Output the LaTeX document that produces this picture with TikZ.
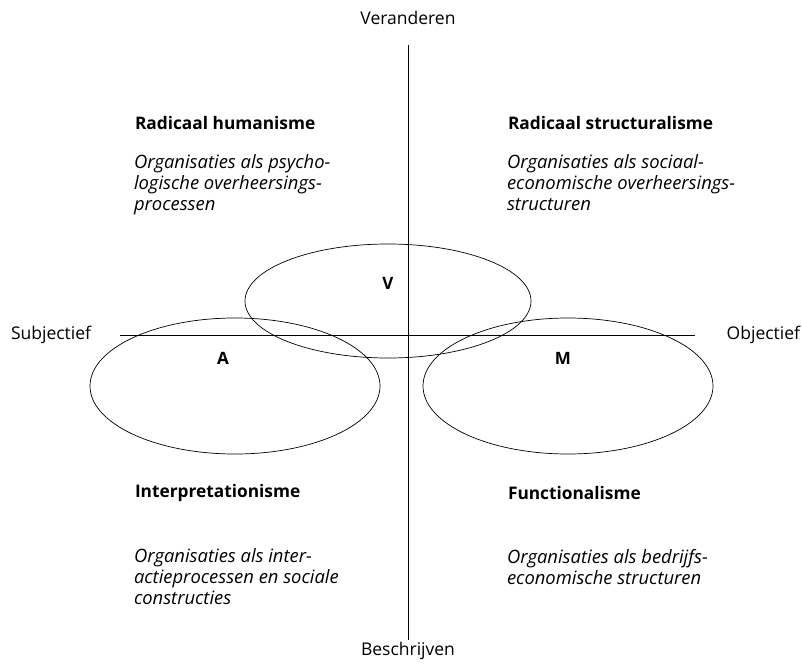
\documentclass[tikz,border=0pt]{standalone}
\usepackage{fontspec}
\setmainfont{Open Sans}
\usepackage{tikz}
\usetikzlibrary{positioning}

\begin{document}
\begin{tikzpicture}[x=1pt,y=-1pt]
        \tikzstyle{every node}=[inner sep=0pt,outer sep=0pt]
        \tikzstyle{axislabel}=[font=\fontsize{17.5}{20}\selectfont]
        \tikzstyle{heading}=[anchor=west,font=\fontsize{17.3}{20}\selectfont\bfseries]
        \tikzstyle{desc}=[anchor=north west,align=left,font=\fontsize{18.4}{21}\selectfont\itshape]
        \tikzstyle{letter}=[font=\fontsize{17}{20}\selectfont\bfseries]
        \tikzstyle{kring}=[draw,line width=0.7pt]
        \useasboundingbox (0,0) rectangle (802,663);
        % assen
        \node[axislabel] (ver) at (408,18) {Veranderen};
        \node[axislabel] (bes) at (408,651) {Beschrijven};
        \node[axislabel,anchor=west] (sub) at (11,335) {Subjectief};
        \node[axislabel,anchor=east] (obj) at (800,335) {Objectief};
        \coordinate (top) at (408,45);
        \coordinate (bot) at (408,640);
        \coordinate (lft) at (120,335);
        \coordinate (rgt) at (695,335);
        \draw[line width=0.7pt] (top) -- (bot);
        \draw[line width=0.7pt] (lft) -- (rgt);
        % ellipsen
        \draw[kring] (388,301) ellipse [x radius=143,y radius=57];
        \draw[kring] (235,386) ellipse [x radius=145,y radius=68];
        \draw[kring] (568,386) ellipse [x radius=145,y radius=68];
        \node[letter] (v) at (388,283) {V};
        \node[letter] (a) at (223,358) {A};
        \node[letter] (m) at (563,358) {M};
        % kwadranten
        \node[heading] (rh) at (135,123) {Radicaal humanisme};
        \node[desc] (rhd) at (134,155) {Organisaties als psycho-\\logische overheersings-\\processen};
        \node[heading] (rs) at (508,123) {Radicaal structuralisme};
        \node[desc] (rsd) at (507,155) {Organisaties als sociaal-\\economische overheersings-\\structuren};
        \node[heading] (ip) at (135,493) {Interpretationisme};
        \node[desc] (ipd) at (134,549) {Organisaties als inter-\\actieprocessen en sociale\\constructies};
        \node[heading] (fu) at (508,493) {Functionalisme};
        \node[desc] (fud) at (507,549) {Organisaties als bedrijfs-\\economische structuren};
\end{tikzpicture}
\end{document}
